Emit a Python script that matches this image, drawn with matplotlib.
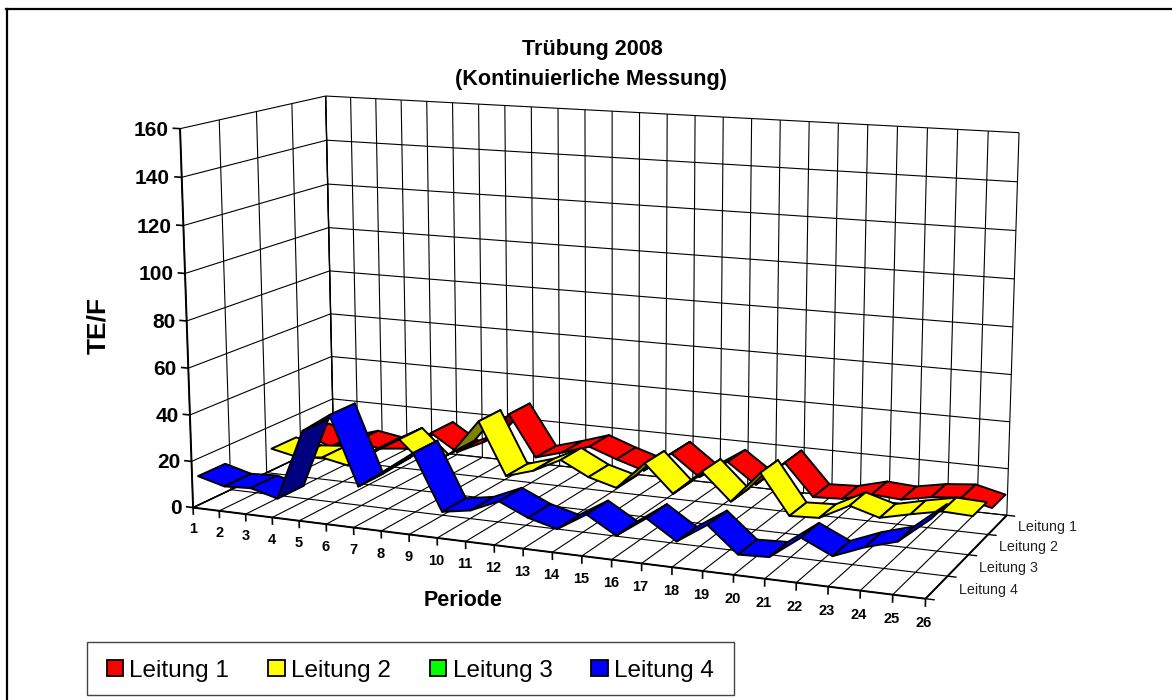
import matplotlib
matplotlib.use("Agg")
import matplotlib.pyplot as plt
import numpy as np
from matplotlib.axes import Axes
from matplotlib.lines import Line2D
from matplotlib.patches import Patch, Rectangle
from mpl_toolkits.mplot3d.art3d import Poly3DCollection

plt.rcParams['font.family'] = ['Liberation Sans', 'DejaVu Sans']

# values (TE/F)
perioden = list(range(1, 27))
leitung1 = [9.5, 5, 8.6, 6.7, 8, 16.4, 9, 14.7, 28.6, 10.5, 14, 17.9, 13.6,
            9.9, 18.7, 9.7, 17.7, 9.1, 20, 6.5, 7.1, 10.4, 9.6, 12, 13.2, 10.2]
leitung2 = [10.1, 7.7, 8.7, 6.4, 14.3, 20.7, 10, 17.5, 32.4, 9.7, 13.4, 19.4, 13.3,
            10, 21.9, 10.2, 21, 9.6, 23.2, 6.4, 7, 13.5, 9.9, 12.8, 15.4, 14.9]
leitung3 = []  # keine Werte, nur in der Legende
leitung4 = [12.8, 9.7, 10.3, 7.2, 37.4, 45.3, 16.5, 24.7, 33.2, 10, 12, 17.2, 11.8,
            8.6, 16, 8.8, 17.3, 9.4, 17.5, 7.1, 7.6, 16.8, 11, 16, 19.7, 30]
namen = ['Leitung 1', 'Leitung 2', 'Leitung 3', 'Leitung 4']
farben = ['#ff0000', '#ffff00', '#00ff00', '#0000ff']
dunkel = ['#800000', '#808000', '#008000', '#000080']
zticks = list(range(0, 161, 20))

W, H = 1172, 700

# kamera: 3D-Box (x, tiefe, wert) -> pixel, aus den Ecken des Bildes
ecken3d = [(1, 0, 0), (1, 0, 160), (1, 4, 0), (1, 4, 160), (26, 4, 0), (26, 4, 160), (26, 0, 0)]
ecken2d = [(193, 507), (180, 129), (333.6, 441.5), (325.7, 95.7), (1006.7, 515), (1019, 132.7), (925.7, 599)]
A = []
for (x, y, z), (u, v) in zip(ecken3d, ecken2d):
    A.append([x, y, z, 1, 0, 0, 0, 0, -u*x, -u*y, -u*z, -u])
    A.append([0, 0, 0, 0, x, y, z, 1, -v*x, -v*y, -v*z, -v])
P = np.linalg.svd(np.array(A, dtype=float))[2][-1].reshape(3, 4)


def pixel(x, y, z):
    q = P @ np.array([x, y, z, 1.0])
    return q[0]/q[2], q[1]/q[2]


fig = plt.figure(figsize=(W/100, H/100), dpi=100)
ax = fig.add_axes([0, 0, 1, 1], projection='3d')
ax.apply_aspect = lambda position=None: None
ax.set_proj_type('ortho')
ax.set_xticks([])
ax.set_yticks([])
ax.set_zticks([])
ax.set_axis_off()
ax.computed_zorder = False

# pixel -> 2D-Koordinaten der 3D-Achse
x0, x1 = Axes.get_xlim(ax)
y0, y1 = Axes.get_ylim(ax)
sx = (x1-x0)/W
sy = (y1-y0)/H
M = np.zeros((4, 4))
M[0] = sx*P[0] + x0*P[2]
M[1] = -sy*P[1] + y1*P[2]
M[2] = 1e-3*np.array([0, 1, 0, 0]) + P[2]*0.5
M[3] = P[2]
ax.get_proj = lambda: M


def linie(xs, ys, zs, lw=0.8, z=1):
    ax.plot(xs, ys, zs, color='black', lw=lw, zorder=z, solid_capstyle='butt')


def text3d(x, y, z, s, **kw):
    u, v = pixel(x, y, z)
    fig.text(u/W, 1-v/H, s, **kw)


# wände und boden
for wert in zticks:
    linie([1, 1], [0, 4], [wert, wert])
    linie([1, 26], [4, 4], [wert, wert])
    linie([1, 0.72], [0, 0], [wert, wert], lw=1.2)
    text3d(0.56, 0, wert-1, str(wert), ha='right', va='center', fontsize=15, fontweight='bold')
for p in perioden:
    linie([p, p], [4, 4], [0, 160])
    linie([p, p], [0, 4], [0, 0])
    linie([p, p], [0, 0], [0, -3.2], lw=1.2)
    text3d(p-0.03, 0, -9.6, str(p), ha='center', va='center', fontsize=10.5, fontweight='bold')
for d in range(5):
    linie([1, 1], [d, d], [0, 160])
    linie([1, 26], [d, d], [0, 0])
    linie([26, 26.28], [d, d], [0, 0], lw=1.0)
for i, name in enumerate(namen):
    text3d(26.67, 3.5-i, 0, name, ha='left', va='center', fontsize=10.3, color='#222222')
linie([1, 26], [0, 0], [0, 0], lw=1.4, z=2)
linie([26, 26], [0, 4], [0, 0], lw=1.4, z=2)
linie([1, 1], [0, 0], [0, 160], lw=1.4, z=2)
linie([1, 1], [0, 4], [0, 0], lw=1.2, z=2)
linie([1, 1], [4, 4], [0, 160], lw=1.0, z=2)


def flaeche(q):
    pts = [pixel(*c) for c in q]
    s = 0
    for a, b in zip(pts, pts[1:]+pts[:1]):
        s += a[0]*b[1] - b[0]*a[1]
    return s


# bänder, hinten zuerst, je von links nach rechts
reihen = [leitung1, leitung2, leitung3, leitung4]
for i, werte in enumerate(reihen):
    vorne = 3 - i + 0.14
    hinten = 3 - i + 0.86
    for k in range(len(werte)-1):
        q = [(perioden[k], vorne, werte[k]), (perioden[k+1], vorne, werte[k+1]),
             (perioden[k+1], hinten, werte[k+1]), (perioden[k], hinten, werte[k])]
        farbe = farben[i] if flaeche(q) < 0 else dunkel[i]
        poly = Poly3DCollection([q], facecolors=farbe, edgecolors='black', linewidths=1.4)
        poly.set_zorder(10 + i*100 + k)
        ax.add_collection3d(poly)

ax.set_xlim(1, 26)
ax.set_ylim(0, 4)
ax.set_zlim(0, 160)

# texte
fig.text(592/W, 1-49/H, 'Trübung 2008', ha='center', va='center', fontsize=15.6, fontweight='bold')
fig.text(591/W, 1-80/H, '(Kontinuierliche Messung)', ha='center', va='center', fontsize=15.6, fontweight='bold')
fig.text(98/W, 1-325/H, 'TE/F', rotation=90, ha='center', va='center', fontsize=19, fontweight='bold')
fig.text(463/W, 1-600/H, 'Periode', ha='center', va='center', fontsize=15.5, fontweight='bold')

griffe = [Patch(facecolor=f, edgecolor='black', lw=1.3) for f in farben]
fig.add_artist(Rectangle((87.3/W, 1-694.5/H), 646.2/W, 52.5/H, transform=fig.transFigure,
                         facecolor='white', edgecolor='#444444', lw=1.0))
leg = fig.legend(griffe, namen, ncols=4, loc='center left', bbox_to_anchor=(106.5/W, 1-670.5/H),
                 borderaxespad=0, fontsize=17.5, frameon=False, borderpad=0,
                 handlelength=0.68, handleheight=0.68, handletextpad=0.26, columnspacing=1.6)

# rahmen, nur links und oben im Bild
fig.add_artist(Line2D([6.7/W, 6.7/W], [0, 1-9/H], color='black', lw=1.6))
fig.add_artist(Line2D([6/W, 1], [1-9/H, 1-9/H], color='black', lw=1.6))

fig.savefig('out.png', dpi=100)
